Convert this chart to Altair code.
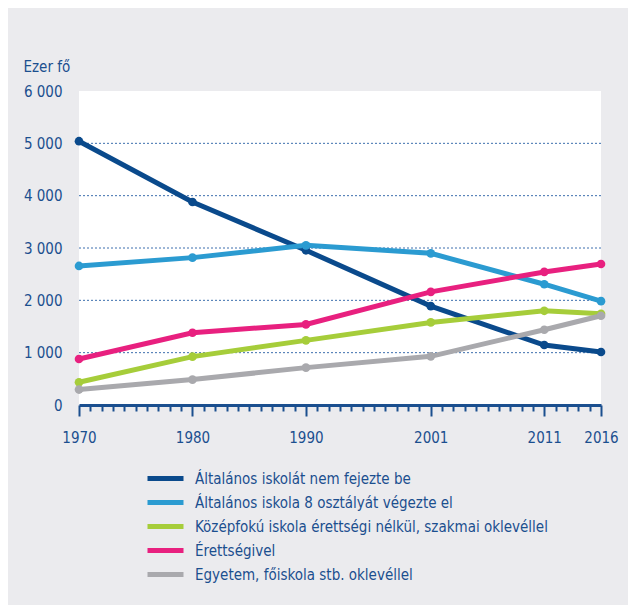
import altair as alt
import pandas as pd

years = [1970, 1980, 1990, 2001, 2011, 2016]
series_names = [
    "Általános iskolát nem fejezte be",
    "Általános iskola 8 osztályát végezte el",
    "Középfokú iskola érettségi nélkül, szakmai oklevéllel",
    "Érettségivel",
    "Egyetem, főiskola stb. oklevéllel",
]
nem_fejezte_be = [5041, 3879, 2956, 1889, 1146, 1013]
nyolc_osztaly = [2657, 2816, 3051, 2898, 2308, 1984]
szakmai = [435, 924, 1235, 1578, 1800, 1743]
erettsegi = [879, 1381, 1540, 2162, 2543, 2695]
egyetem = [295, 486, 714, 930, 1438, 1705]
colors = ["#0a4a8c", "#2b9bd1", "#a6cd3a", "#e8207f", "#a9a9ad"]
y_ticks = [0, 1000, 2000, 3000, 4000, 5000, 6000]
grid_values = [1000, 2000, 3000, 4000, 5000]
all_years = list(range(1970, 2017))

rows = []
for name, vals in zip(series_names, [nem_fejezte_be, nyolc_osztaly, szakmai, erettsegi, egyetem]):
    for yr, v in zip(years, vals):
        rows.append({"year": yr, "value": v, "series": name})
df = pd.DataFrame(rows)
grid_df = pd.DataFrame({"g": grid_values})

TXT = "#1b4f8f"
FONT = "DejaVu Sans Condensed, sans-serif"
major = "[1970,1980,1990,2001,2011,2016]"

x_scale = alt.Scale(domain=[1970, 2016], nice=False, zero=False)
y_scale = alt.Scale(domain=[0, 6000], nice=False)

y_axis = alt.Axis(
    values=y_ticks,
    labelExpr="replace(format(datum.value, ','), ',', ' ')",
    domain=False,
    ticks=False,
    grid=False,
    labelFont=FONT,
    labelFontSize=15,
    labelColor=TXT,
    labelPadding=17,
    title="Ezer fő",
    titleAngle=0,
    titleX=-56,
    titleY=-25,
    titleAlign="left",
    titleBaseline="middle",
    titleFont=FONT,
    titleFontSize=15,
    titleFontWeight="normal",
    titleColor=TXT,
)

grid = alt.Chart(grid_df).mark_rule(color="#3d6fae", strokeWidth=1, strokeDash=[2, 2]).encode(
    y=alt.Y("g:Q", scale=y_scale, axis=y_axis)
)

lines = alt.Chart(df).mark_line(
    strokeWidth=5,
    point=alt.OverlayMarkDef(filled=True, size=75, opacity=1),
).encode(
    x=alt.X(
        "year:Q",
        scale=x_scale,
        axis=alt.Axis(
            values=all_years,
            format="d",
            title=None,
            grid=False,
            domainColor=TXT,
            domainWidth=3,
            tickColor=TXT,
            tickWidth=2,
            tickSize={"condition": {"test": f"indexof({major}, datum.value) >= 0", "value": 11}, "value": 6},
            labelExpr=f"indexof({major}, datum.value) >= 0 ? datum.label : ''",
            labelFont=FONT,
            labelFontSize=15,
            labelColor=TXT,
            labelPadding=14,
            labelOverlap=False,
            labelFlush=False,
            labelBaseline="top",
        ),
    ),
    y=alt.Y("value:Q", scale=y_scale, axis=y_axis),
    color=alt.Color(
        "series:N",
        scale=alt.Scale(domain=series_names, range=colors),
        legend=alt.Legend(
            orient="none",
            legendX=78,
            legendY=379,
            title=None,
            direction="vertical",
            symbolType="M-3,0H3",
            symbolStrokeWidth=5,
            symbolSize=144,
            labelFont=FONT,
            labelFontSize=15,
            labelColor=TXT,
            labelOffset=21,
            labelLimit=500,
            rowPadding=3,
        ),
    ),
    order=alt.Order("year:Q"),
)

chart = alt.layer(grid, lines).properties(
    width=522,
    height=314,
    autosize=alt.AutoSizeParams(type="none"),
    padding={"left": 71, "top": 83, "right": 27, "bottom": 200},
).configure(background="#ebebee").configure_view(stroke=None, fill="white")

chart.save("out.html", embed_options={"renderer": "svg", "actions": False})
